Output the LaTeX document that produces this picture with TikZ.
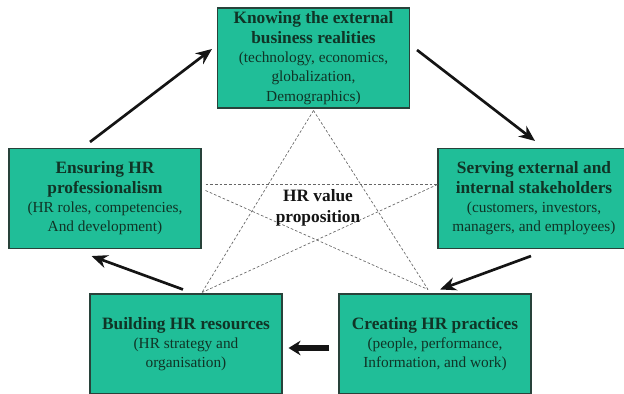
\documentclass[tikz,border=0pt]{standalone}
\usepackage{fontspec}
\setmainfont{Liberation Serif}
\usetikzlibrary{arrows.meta,positioning,calc}
\definecolor{mint}{RGB}{32,190,152}
\definecolor{pine}{RGB}{16,52,38}
\definecolor{rim}{RGB}{40,66,58}
\definecolor{ink}{RGB}{20,20,20}
\newcommand{\hrhead}{\fontsize{13}{14.5}\selectfont\bfseries}
\newcommand{\hrsub}{\fontsize{11.5}{14.5}\selectfont\mdseries}
\tikzset{
  >={Stealth[length=12pt,width=10pt]},
  hrbox/.style={draw=rim,fill=mint,thick,minimum width=144pt,minimum height=75pt,
    align=center,text=pine,inner sep=2pt,font=\fontsize{11.5}{14.5}\selectfont},
  flow/.style={->,line width=#1,draw=ink},
  flow/.default=2pt,
  star/.style={draw=black!60,line width=0.5pt,dash pattern=on 2pt off 1.5pt},
  core/.style={font=\fontsize{13}{15.5}\selectfont\bfseries,text=ink,align=center},
}
\begin{document}
\begin{tikzpicture}[x=0.75pt,y=-0.75pt]
  \useasboundingbox (0,0) rectangle (624,393);
  \clip (0,0) rectangle (624,393);
  \fill[white] (0,0) rectangle (624,393);
  % the five boxes
  \node[hrbox] (know) at (313.5,58) {\hrhead Knowing the external\\\hrhead business realities\\\hrsub (technology, economics,\\\hrsub globalization,\\\hrsub Demographics)};
  \node[hrbox] (ensure) at (105,198.5) {\hrhead Ensuring HR\\\hrhead professionalism\\\hrsub (HR roles, competencies,\\\hrsub And development)};
  \node[hrbox] (serve) at (534,198.5) {\hrhead Serving external and\\\hrhead internal stakeholders\\\hrsub (customers, investors,\\\hrsub managers, and employees)};
  \node[hrbox] (build) at (186,344) {\hrhead Building HR resources\\\hrsub (HR strategy and\\\hrsub organisation)};
  \node[hrbox] (create) at (435,344) {\hrhead Creating HR practices\\\hrsub (people, performance,\\\hrsub Information, and work)};
  % star
  \coordinate (pTop) at ([shift={(0,2)}]know.south);
  \coordinate (pLeft) at ([shift={(4,-14)}]ensure.east);
  \coordinate (pLeftB) at ([shift={(4,-8)}]ensure.east);
  \coordinate (pRight) at ([shift={(0,-14)}]serve.west);
  \coordinate (pBL) at ([shift={(16,-1)}]build.north);
  \coordinate (pBR) at ([shift={(-7,-4)}]create.north);
  \draw[star] (pTop) -- (pBL);
  \draw[star] (pTop) -- (pBR);
  \draw[star] (pLeft) -- (pRight);
  \draw[star] (pLeftB) -- (pBR);
  \draw[star] (pRight) -- (pBL);
  \node[core] (value) at (318,208) {HR value\\proposition};
  % cycle
  \draw[flow] ([shift={(-15,-6)}]ensure.north) -- ([shift={(-5,-9)}]know.west);
  \draw[flow] ([shift={(7,-8)}]know.east) -- ([shift={(1,-7)}]serve.north);
  \draw[flow] ([shift={(-3,7)}]serve.south) -- ([shift={(5,-4)}]create.north);
  \draw[flow=4pt,-{Stealth[length=9pt,width=11pt]}] ([shift={(-9,4)}]create.west) -- ([shift={(6,4)}]build.east);
  \draw[flow] ([shift={(-3,-4)}]build.north) -- ([shift={(-13.5,7)}]ensure.south);
\end{tikzpicture}
\end{document}
